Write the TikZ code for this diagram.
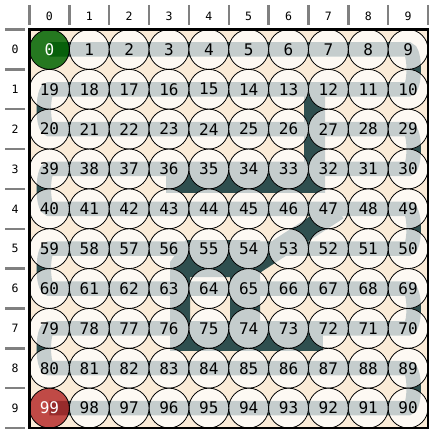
\documentclass[tikz,border=0pt]{standalone}
\usepackage{fontspec}
\newfontfamily\monofont{DejaVu Sans Mono}
\definecolor{dsg}{RGB}{47,79,79}
\definecolor{boardbg}{RGB}{250,235,215}
\definecolor{startgreen}{RGB}{0,100,0}
\definecolor{endred}{RGB}{178,34,34}
\definecolor{tickgray}{RGB}{128,128,128}
\tikzset{
  cell/.style={circle, draw=black, line width=0.8pt, fill=white, fill opacity=0.72, text opacity=1,
    minimum size=39.85pt, inner sep=0pt, font=\monofont\fontsize{16}{16}\selectfont},
  startcell/.style={cell, fill=startgreen, fill opacity=0.85, text=white},
  endcell/.style={cell, fill=endred, fill opacity=0.8, text=white},
  axlab/.style={font=\monofont\fontsize{11.5}{12}\selectfont, inner sep=0pt},
  axtick/.style={draw=tickgray, line width=2.5pt},
  band/.style={draw=dsg, line width=14.5pt},
  wall/.style={fill=dsg}
}
\begin{document}
\begin{tikzpicture}[x=1pt,y=-1pt]
\useasboundingbox (0,0) rectangle (435,435);
\fill[white] (0,0) rectangle (435,435);
\fill[boardbg] (29.5,29.5) rectangle (428,428);
% centres
\foreach \n in {0,...,99} {
  \pgfmathtruncatemacro\rr{int(\n/10)}
  \pgfmathtruncatemacro\kk{mod(\n,10)}
  \pgfmathtruncatemacro\cc{ifthenelse(mod(\rr,2)==0,\kk,9-\kk)}
  \coordinate (c\n) at ({29.5+39.85*(\cc+0.5)},{29.5+39.85*(\rr+0.5)});
}
% dark shapes
\fill[wall] (304,92) -- (325,92) -- (325,193) -- (166,193) -- (166,168) -- (304,168) -- cycle;
\fill[wall] (170,262) -- (170,350) -- (190,350) -- (190,277) -- (230,277) -- (230,350) -- (260,350) -- (260,240) -- (186,240) -- cycle;
\fill[wall] (170,330) rectangle (323,351);
\draw[dsg, line width=20pt] (252,266) -- (338,210);
% serpentine band
\draw[band] (c0) -- (c9) .. controls +(7.5,0) and +(7.5,0) .. (c10)
  -- (c19) .. controls +(-7.5,0) and +(-7.5,0) .. (c20)
  -- (c29) .. controls +(7.5,0) and +(7.5,0) .. (c30)
  -- (c39) .. controls +(-7.5,0) and +(-7.5,0) .. (c40)
  -- (c49) .. controls +(7.5,0) and +(7.5,0) .. (c50)
  -- (c59) .. controls +(-7.5,0) and +(-7.5,0) .. (c60)
  -- (c69) .. controls +(7.5,0) and +(7.5,0) .. (c70)
  -- (c79) .. controls +(-7.5,0) and +(-7.5,0) .. (c80)
  -- (c89) .. controls +(7.5,0) and +(7.5,0) .. (c90)
  -- (c99);
% cells
\node[startcell] (n0) at (c0) {0};
\foreach \n in {1,...,98} { \node[cell] (n\n) at (c\n) {\n}; }
\node[endcell] (n99) at (c99) {99};
% frame
\draw[black, line width=2.4pt] (29.5,29.5) rectangle (428,428);
% axes
\foreach \i in {0,...,9} {
  \node[axlab] (tx\i) at ({29.5+39.85*(\i+0.5)},16) {\i};
  \node[axlab] (ly\i) at (15,{29.5+39.85*(\i+0.5)}) {\i};
}
\foreach \i in {0,...,10} {
  \draw[axtick] ({29.5+39.85*\i},5) -- ({29.5+39.85*\i},25);
  \draw[axtick] (5,{29.5+39.85*\i}) -- (25,{29.5+39.85*\i});
}
\end{tikzpicture}
\end{document}
